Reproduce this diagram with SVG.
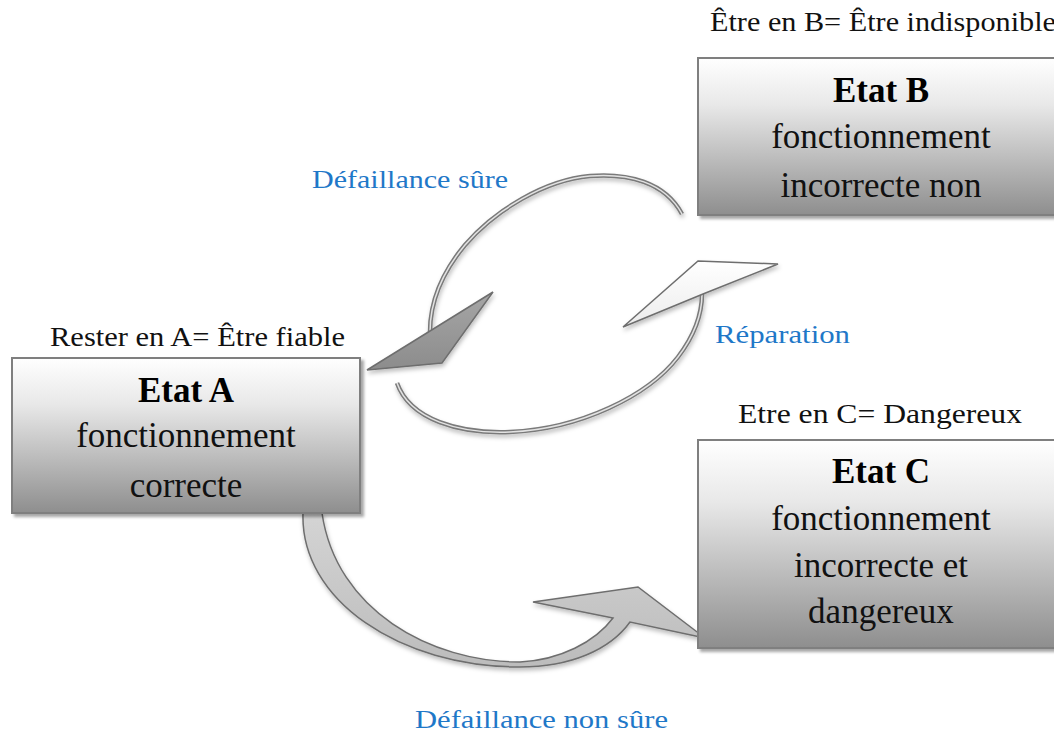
<svg xmlns="http://www.w3.org/2000/svg" width="1054" height="739" viewBox="0 0 1054 739">
  <defs>
    <linearGradient id="boxGrad" x1="0" y1="0" x2="0" y2="1">
      <stop offset="0" stop-color="#ffffff"/>
      <stop offset="0.3" stop-color="#e8e8e8"/>
      <stop offset="1" stop-color="#8e8e8e"/>
    </linearGradient>
    <linearGradient id="darkHead" x1="0" y1="0" x2="0" y2="1">
      <stop offset="0" stop-color="#a6a6a6"/>
      <stop offset="1" stop-color="#8c8c8c"/>
    </linearGradient>
    <linearGradient id="lightHead" x1="0" y1="0" x2="0" y2="1">
      <stop offset="0" stop-color="#ffffff"/>
      <stop offset="1" stop-color="#ececec"/>
    </linearGradient>
    <linearGradient id="bandGrad" x1="0" y1="0" x2="0" y2="1">
      <stop offset="0" stop-color="#d4d4d4"/>
      <stop offset="1" stop-color="#bcbcbc"/>
    </linearGradient>
    <filter id="shadow" x="-10%" y="-10%" width="130%" height="130%">
      <feDropShadow dx="3" dy="3" stdDeviation="1.5" flood-color="#000" flood-opacity="0.35"/>
    </filter>
    <filter id="softShadow" x="-10%" y="-10%" width="130%" height="130%">
      <feDropShadow dx="1" dy="3" stdDeviation="2" flood-color="#000" flood-opacity="0.25"/>
    </filter>
  </defs>
  <style>
    .box { fill: url(#boxGrad); stroke: #7f7f7f; stroke-width: 2; filter: url(#shadow); }
    .title { font-family: "Liberation Serif", "DejaVu Serif", serif; font-weight: bold; font-size: 35px; fill: #000; text-anchor: middle; }
    .body { font-family: "Liberation Serif", "DejaVu Serif", serif; font-size: 35px; fill: #111; text-anchor: middle; }
    .label { font-family: "Liberation Serif", "DejaVu Serif", serif; font-size: 27px; fill: #111; }
    .blue { font-family: "Liberation Serif", "DejaVu Serif", serif; font-size: 26px; fill: #1f78c8; }
    .arcOuter { fill: none; stroke: #7a7a7a; stroke-width: 4.5; stroke-linecap: butt; }
    .arcInner { fill: none; stroke: #e2e2e2; stroke-width: 1.5; }
    .head { stroke: #6e6e6e; stroke-width: 1.5; stroke-linejoin: miter; }
  </style>
  <rect width="1054" height="739" fill="#ffffff"/>

  <g id="connectors">
    <g id="arrow-defaillance-sure" filter="url(#softShadow)">
      <path class="arcOuter" d="M 682,214 C 665,182 628,173 590,176 C 545,180 495,210 465,245 C 440,275 430,305 430,332"/>
      <path class="arcInner" d="M 682,214 C 665,182 628,173 590,176 C 545,180 495,210 465,245 C 440,275 430,305 430,332"/>
      <polygon class="head" fill="url(#darkHead)" points="367,370 493,292 442,363"/>
    </g>
    <g id="arrow-reparation" filter="url(#softShadow)">
      <path class="arcOuter" d="M 397,383 C 410,420 460,434 510,432 C 580,429 648,396 678,357 C 694,336 702,316 702,294"/>
      <path class="arcInner" d="M 397,383 C 410,420 460,434 510,432 C 580,429 648,396 678,357 C 694,336 702,316 702,294"/>
      <polygon class="head" fill="url(#lightHead)" points="623,327 698,261 778,264 703,294"/>
    </g>
    <g id="arrow-defaillance-non-sure" filter="url(#softShadow)">
      <path class="head" fill="url(#bandGrad)" d="M 303,513 C 300,600 400,667 520,667 C 570,667 610,650 630,622 L 705,638 L 638,587 L 533,602 L 613,618 C 595,642 560,660 520,662 C 430,662 336,610 322,513 Z"/>
    </g>
  </g>

  <g id="node-A">
    <rect class="box" x="12" y="358" width="348" height="155"/>
    <text class="title" x="186" y="402">Etat A</text>
    <text class="body" x="186" y="447">fonctionnement</text>
    <text class="body" x="186" y="497">correcte</text>
  </g>

  <g id="node-B">
    <rect class="box" x="698" y="58" width="366" height="157"/>
    <text class="title" x="881" y="102">Etat B</text>
    <text class="body" x="881" y="148">fonctionnement</text>
    <text class="body" x="881" y="197">incorrecte non</text>
  </g>

  <g id="node-C">
    <rect class="box" x="698" y="440" width="366" height="208"/>
    <text class="title" x="881" y="483">Etat C</text>
    <text class="body" x="881" y="530">fonctionnement</text>
    <text class="body" x="881" y="577">incorrecte et</text>
    <text class="body" x="881" y="623">dangereux</text>
  </g>

  <g id="labels">
    <text class="label" x="710" y="31" textLength="346" lengthAdjust="spacingAndGlyphs">Être en B= Être indisponible</text>
    <text class="label" x="50" y="346" textLength="295" lengthAdjust="spacingAndGlyphs">Rester en A= Être fiable</text>
    <text class="label" x="738" y="423" textLength="284" lengthAdjust="spacingAndGlyphs">Etre en C= Dangereux</text>
    <text class="blue" x="312" y="188" textLength="196" lengthAdjust="spacingAndGlyphs">Défaillance sûre</text>
    <text class="blue" x="715" y="343" textLength="135" lengthAdjust="spacingAndGlyphs">Réparation</text>
    <text class="blue" x="415" y="728" textLength="253" lengthAdjust="spacingAndGlyphs">Défaillance non sûre</text>
  </g>
</svg>
